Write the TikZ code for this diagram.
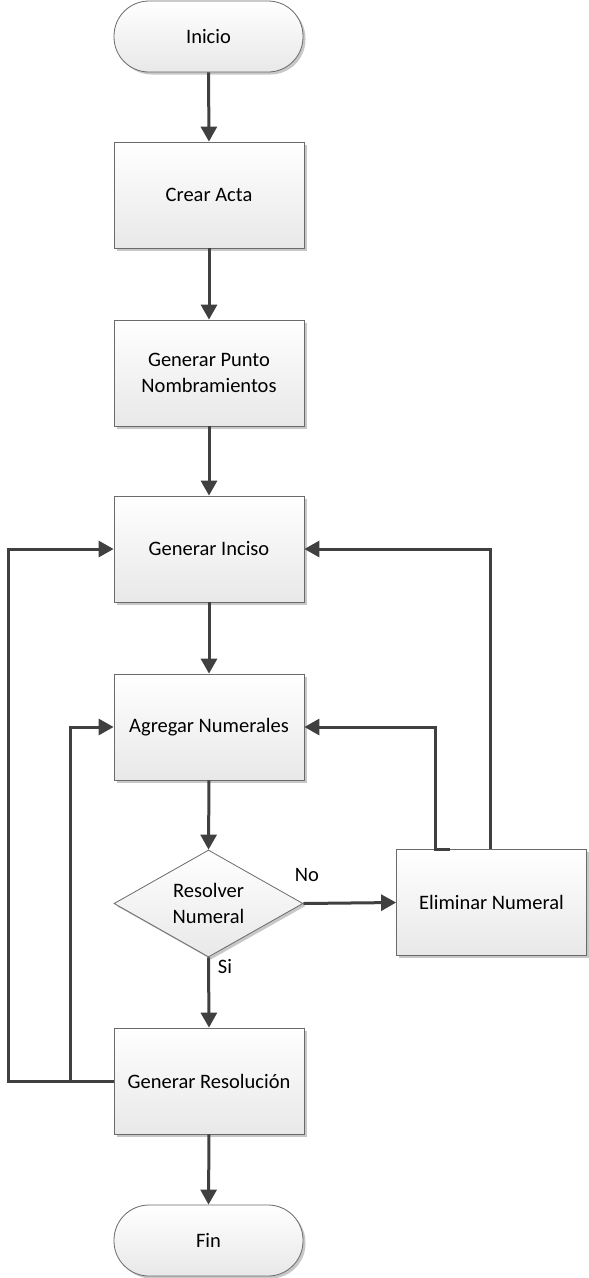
\documentclass[tikz,border=0pt]{standalone}
\usepackage{fontspec}
\setmainfont{Carlito}
\usetikzlibrary{arrows.meta,shapes.geometric,shadows}
\definecolor{linegray}{HTML}{404040}
\definecolor{edgegray}{HTML}{6A6A6A}
\begin{document}
\begin{tikzpicture}[x=1pt,y=-1pt,
  base/.style={draw=edgegray, line width=0.8pt, top color=white, bottom color=black!9,
    font=\fontsize{20.5}{26}\selectfont, align=center,
    general shadow={fill=black!22, shadow xshift=2.5pt, shadow yshift=-2.5pt}},
  procbox/.style={base, rectangle, minimum width=190pt, minimum height=106pt, inner sep=0pt},
  term/.style={base, rectangle, rounded corners=35pt, minimum width=189pt, minimum height=71pt},
  decision/.style={base, diamond, aspect=1.77, minimum width=189pt, minimum height=107pt, inner sep=0pt},
  flow/.style={draw=linegray, line width=3pt, -{Triangle[length=15pt,width=16pt]}},
  lbl/.style={font=\fontsize{20.5}{26}\selectfont}]
\useasboundingbox (0,0) rectangle (589,1278);

% main column
\node[term] (inicio) at (208.5,36.5) {Inicio};
\node[procbox] (crear) at (209,195) {Crear Acta};
\node[procbox] (punto) at (209,373) {Generar Punto\\Nombramientos};
\node[procbox] (inciso) at (209,549) {Generar Inciso};
\node[procbox] (agregar) at (209,727) {Agregar Numerales};
\node[decision] (resolver) at (208.5,903.5) {Resolver\\Numeral};
\node[procbox] (eliminar) at (491.5,902.5) {Eliminar Numeral};
\node[procbox] (resol) at (209,1081) {Generar Resolución};
\node[term] (fin) at (208.5,1240.5) {Fin};

% branch labels
\node[lbl] (nolbl) at (307,875) {No};
\node[lbl] (silbl) at (225,967) {Si};

% straight flow
\draw[flow] (inicio.south) -- (crear.north);
\draw[flow] (crear.south) -- (punto.north);
\draw[flow] (punto.south) -- (inciso.north);
\draw[flow] (inciso.south) -- (agregar.north);
\draw[flow] (agregar.south) -- (resolver.north);
\draw[flow] (resolver.east) -- (eliminar.west);
\draw[flow] (resolver.south) -- (resol.north);
\draw[flow] (resol.south) -- (fin.north);

% return loops on the left
\coordinate (outerleft) at (8,1081);
\coordinate (innerleft) at (70,1081);
\draw[flow] (resol.west) -- (outerleft) |- (inciso.west);
\draw[flow] (innerleft) |- (agregar.west);

% return loops on the right
\draw[flow] ([xshift=-42pt]eliminar.north) -- ([xshift=-56.5pt]eliminar.north) |- (agregar.east);
\draw[flow] ([xshift=-1.5pt]eliminar.north) |- (inciso.east);
\end{tikzpicture}
\end{document}
